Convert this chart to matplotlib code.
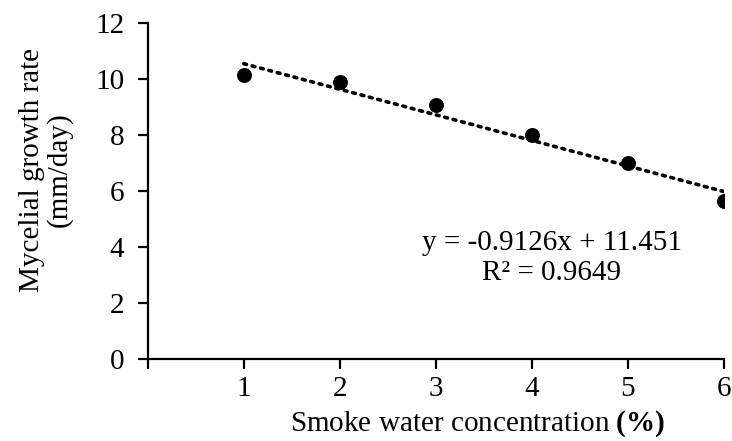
import matplotlib
matplotlib.use("Agg")
import matplotlib.pyplot as plt

# Groeisnelheid mycelium tegen concentratie rookwater.
concentratie = [1, 2, 3, 4, 5, 6]
groei = [10.12, 9.88, 9.06, 8.0, 7.0, 5.65]

helling = -0.9126
snijpunt = 11.451
r2 = 0.9649

x_ticks = [0, 1, 2, 3, 4, 5, 6]
x_labels = ['', '1', '2', '3', '4', '5', '6']
y_ticks = [0, 2, 4, 6, 8, 10, 12]

plt.rcParams['font.family'] = ['Liberation Serif', 'DejaVu Serif']
plt.rcParams['mathtext.fontset'] = 'custom'
plt.rcParams['mathtext.rm'] = 'Liberation Serif'
plt.rcParams['mathtext.bf'] = 'Liberation Serif:bold'

grootte = 21

fig = plt.figure(figsize=(7.32, 4.41), dpi=100)
ax = fig.add_axes([0.2018, 0.186, 0.7869, 0.7625])

# Trendlijn van eerste tot laatste punt.
lijn_x = [concentratie[0], concentratie[-1]]
lijn_y = [helling * x + snijpunt for x in lijn_x]
ax.plot(lijn_x, lijn_y, color='black', linestyle=(0, (0.8, 1.6)), linewidth=2.6,
        dash_capstyle='round')
ax.scatter(concentratie, groei, s=95, color='black', zorder=3)

ax.set_xlim(0, 6)
ax.set_ylim(0, 12)
ax.set_xticks(x_ticks)
ax.set_xticklabels(x_labels)
ax.set_yticks(y_ticks)

for kant in ['top', 'right']:
    ax.spines[kant].set_visible(False)
for kant in ['left', 'bottom']:
    ax.spines[kant].set_linewidth(1.6)
ax.tick_params(axis='both', direction='out', length=7, width=1.6, labelsize=grootte)
ax.tick_params(axis='x', pad=5)
ax.tick_params(axis='y', pad=10)

ax.text(4.21, 4.14, 'y = -0.9126x + 11.451', fontsize=grootte, ha='center', va='center')
ax.text(4.21, 3.07, 'R² = 0.9649', fontsize=grootte, ha='center', va='center')

fig.text(0.652, 0.0385, r'Smoke water concentration $\mathbf{(\%)}$', fontsize=grootte,
         ha='center', va='center')
fig.text(0.063, 0.6145, 'Mycelial growth rate\n(mm/day)', fontsize=grootte,
         ha='center', va='center', rotation=90, linespacing=1.05)

fig.savefig('out.png', dpi=100)
